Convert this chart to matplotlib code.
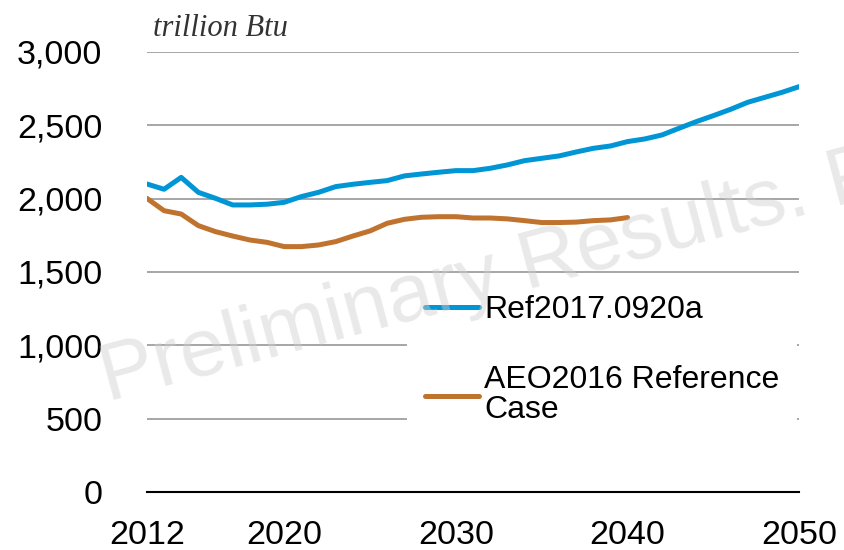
import matplotlib
matplotlib.use("Agg")
import matplotlib.pyplot as plt
from matplotlib.ticker import FuncFormatter

years = list(range(2012, 2051))
ref2017 = [2100, 2064, 2145, 2043, 2002, 1957, 1957, 1962, 1975, 2014,
           2043, 2082, 2098, 2111, 2123, 2155, 2168, 2180, 2191, 2191,
           2207, 2230, 2259, 2275, 2291, 2318, 2343, 2359, 2389, 2407,
           2434, 2480, 2525, 2566, 2609, 2657, 2691, 2725, 2764]
aeo_years = list(range(2012, 2041))
aeo2016 = [2002, 1918, 1895, 1816, 1775, 1745, 1718, 1702, 1673, 1673,
           1684, 1707, 1745, 1780, 1832, 1859, 1873, 1877, 1877, 1868,
           1868, 1862, 1850, 1837, 1837, 1840, 1850, 1855, 1871]
xticks = [2012, 2020, 2030, 2040, 2050]
yticks = [0, 500, 1000, 1500, 2000, 2500, 3000]

plt.rcParams['font.family'] = ['Liberation Sans', 'DejaVu Sans']

fig = plt.figure(figsize=(8.44, 5.5), dpi=100)
ax = fig.add_axes([0.174, 0.1055, 0.773, 0.80])

ax.plot(years, ref2017, color='#0096D6', lw=3.6, label='Ref2017.0920a',
        solid_capstyle='round', zorder=3)
ax.plot(aeo_years, aeo2016, color='#C0732E', lw=3.6,
        label='AEO2016 Reference\nCase', solid_capstyle='round', zorder=3)

ax.set_xlim(2012, 2050)
ax.set_ylim(0, 3000)
ax.set_xticks(xticks)
ax.set_yticks(yticks)
ax.yaxis.set_major_formatter(FuncFormatter(lambda v, p: f"{int(v):,}"))
ax.tick_params(axis='both', length=0, labelsize=24.5, colors='black')
ax.tick_params(axis='y', pad=32)
ax.tick_params(axis='x', pad=20)
ax.grid(axis='y', color='#a6a6a6', lw=1.4)
ax.set_axisbelow(True)
for s in ['top', 'right', 'left']:
    ax.spines[s].set_visible(False)
ax.spines['bottom'].set_color('black')
ax.spines['bottom'].set_linewidth(1.5)

ax.text(0.01, 1.036, "trillion Btu", transform=ax.transAxes, fontsize=22,
        family='Liberation Serif', style='italic', color='#333333',
        ha='left', va='baseline')

leg = ax.legend(loc='upper left', bbox_to_anchor=(0.375, 0.523), frameon=True,
                fontsize=23, handlelength=1.7, handletextpad=0.15,
                labelspacing=1.25, borderpad=0.55, fancybox=False)
leg.get_frame().set_edgecolor('none')
leg.get_frame().set_facecolor('white')
leg.get_frame().set_alpha(1)
for t in leg.get_texts():
    t.set_linespacing(1.0)

# semi-transparent watermark laid over the plot
fig.text(0.127, 0.270, "Preliminary Results. Preliminary", fontsize=59,
         color='#cfcfcf', alpha=0.45, rotation=15, rotation_mode='anchor',
         ha='left', va='baseline', zorder=10)

fig.savefig("out.png", dpi=100)
